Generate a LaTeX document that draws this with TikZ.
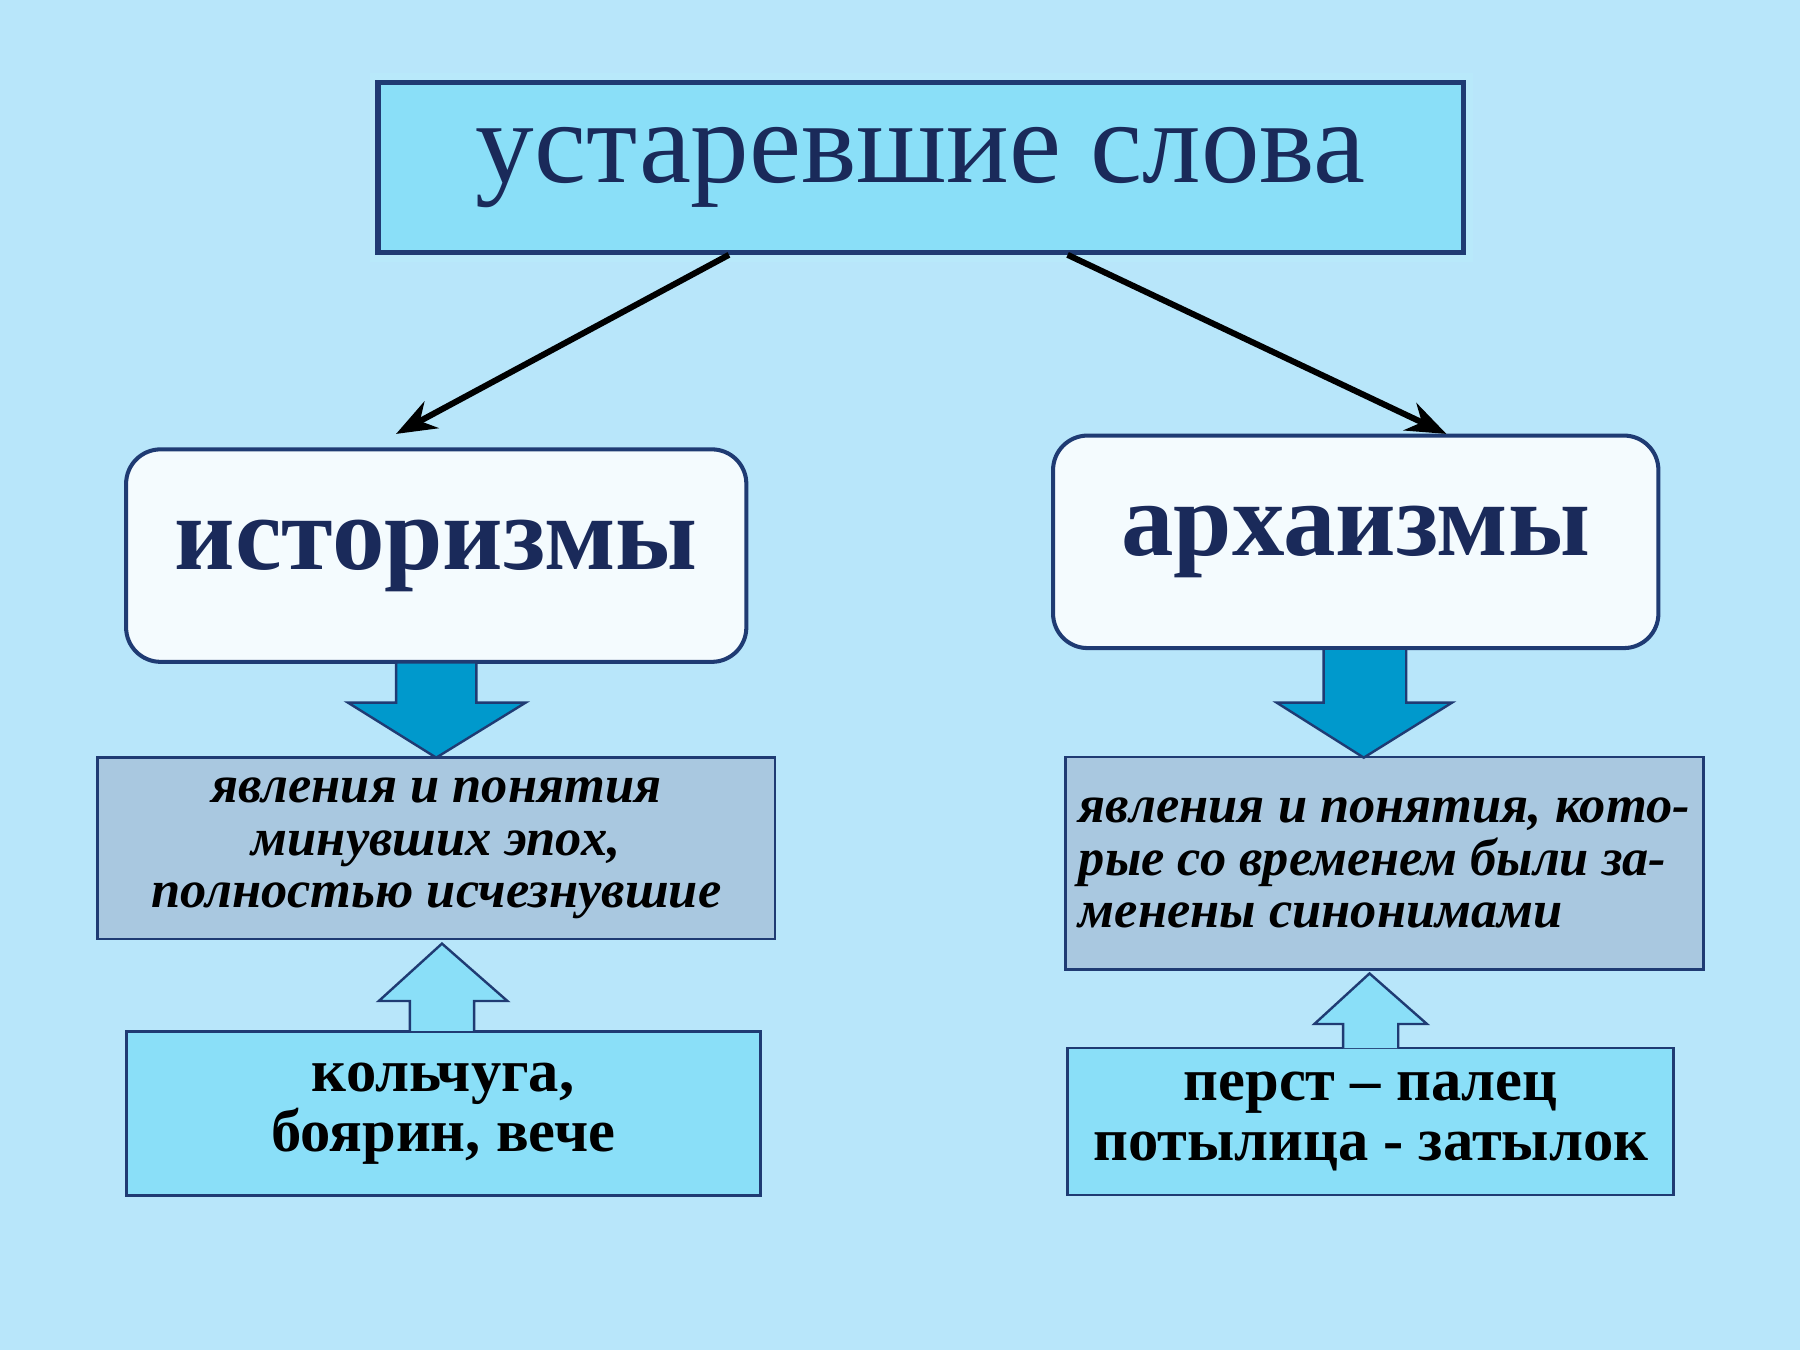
\documentclass[tikz,border=0pt]{standalone}
\usepackage{fontspec}
\setmainfont{Liberation Serif}
\usetikzlibrary{arrows.meta, positioning, shapes}
\definecolor{bgblue}{HTML}{B8E6FA}
\definecolor{boxblue}{HTML}{8ADFF8}
\definecolor{navy}{HTML}{1F3B73}
\definecolor{deepblue}{HTML}{0099CC}
\definecolor{greyblue}{HTML}{A9C8E0}
\definecolor{ink}{HTML}{1A2A5A}
\tikzset{
  titlebox/.style={rectangle, draw=navy, line width=1.3pt, fill=boxblue, text=ink},
  kindbox/.style={rectangle, rounded corners=0.3cm, draw=navy, line width=1pt, fill=white!85!bgblue, text=ink, font=\fontsize{26}{30}\selectfont\bfseries},
  meaningbox/.style={rectangle, draw=navy, line width=0.7pt, fill=greyblue, text=black, font=\fontsize{13}{13}\selectfont\bfseries\itshape},
  samplebox/.style={rectangle, draw=navy, line width=0.7pt, fill=boxblue, text=black, font=\fontsize{15}{15}\selectfont\bfseries, align=center},
  downarrow/.style={draw=navy, line width=0.6pt, fill=deepblue},
  uparrow/.style={draw=navy, line width=0.6pt, fill=boxblue}
}
\begin{document}
\begin{tikzpicture}[x=0.01cm, y=-0.01cm]
\fill[bgblue] (0,0) rectangle (1568,1176);
\useasboundingbox (0,0) rectangle (1568,1176);
% title
\fill[boxblue!60, opacity=0.6] (322,64) rectangle (1283,228);
\node (top) [titlebox, minimum width=9.45cm, minimum height=1.48cm, font=\fontsize{29}{32}\selectfont] at (802,146) {устаревшие слова};
% kinds
\node (hist) [kindbox, minimum width=5.4cm, minimum height=1.85cm] at (380,484) {историзмы};
\node (arch) [kindbox, minimum width=5.27cm, minimum height=1.85cm] at (1181,472) {архаизмы};
\draw [-{Stealth[length=0.35cm]}, line width=1.5pt] (635,222) -- (345,378);
\draw [-{Stealth[length=0.35cm]}, line width=1.5pt] (930,222) -- (1260,378);
% meanings
\node (histdef) [meaningbox, minimum width=5.9cm, minimum height=1.58cm, align=center] at (380,739)
  {явления и понятия\\ минувших эпох,\\ полностью исчезнувшие};
\node (archdef) [meaningbox, minimum width=5.53cm, minimum height=1.85cm, align=left] at (1206,752)
  {явления и понятия, кото-\\ рые со временем были за-\\ менены синонимами};
\draw [downarrow] (345,577) -- (415,577) -- (415,612) -- (458,612) -- (380,660) -- (303,612) -- (345,612) -- cycle;
\draw [downarrow] (1153,565) -- (1225,565) -- (1225,612) -- (1265,612) -- (1188,660) -- (1112,612) -- (1153,612) -- cycle;
% samples
\node (histex) [samplebox, minimum width=5.52cm, minimum height=1.43cm] at (386,970) {кольчуга,\\ боярин, вече};
\node (archex) [samplebox, minimum width=5.28cm, minimum height=1.28cm] at (1194,977) {перст – палец\\ потылица - затылок};
\draw [uparrow] (357,898) -- (357,872) -- (330,872) -- (385,822) -- (442,872) -- (413,872) -- (413,898);
\draw [uparrow] (1170,913) -- (1170,892) -- (1145,892) -- (1193,848) -- (1243,892) -- (1218,892) -- (1218,913);
\end{tikzpicture}
\end{document}
